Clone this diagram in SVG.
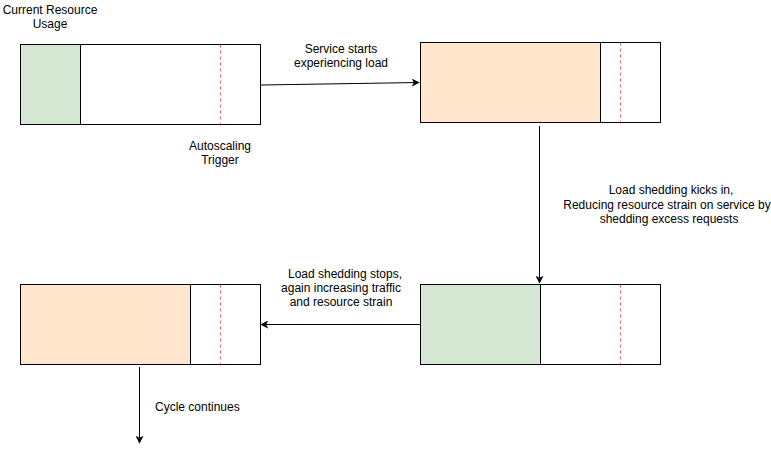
<svg xmlns="http://www.w3.org/2000/svg" width="771" height="453" viewBox="0 0 771 453">
<style>
text{font-family:"Liberation Sans",Arial,sans-serif;font-size:12px;fill:#000}
.box{fill:none;stroke:#000;stroke-width:1}
.bg{fill:#fff}
.g{fill:#d5e8d4}
.o{fill:#ffe6cc}
.div{stroke:#000;stroke-width:1}
.dash{stroke:#ea6b66;stroke-width:1;stroke-dasharray:3,3}
.edge{stroke:#000;stroke-width:1;fill:none}
</style>
<defs>
<marker id="arr" viewBox="0 0 10 10" refX="9" refY="5" markerWidth="8" markerHeight="8" markerUnits="userSpaceOnUse" orient="auto">
<path d="M0,0 L10,5 L0,10 L2.5,5 Z" fill="#000"/>
</marker>
</defs>
<rect width="771" height="453" fill="#fff"/>
<g id="node1">
<rect class="bg" x="20.5" y="44.5" width="240" height="80"/>
<rect class="g" x="20.5" y="44.5" width="60" height="80"/>
<line class="div" x1="80.5" y1="44.5" x2="80.5" y2="124.5"/>
<line class="dash" x1="220.5" y1="44.5" x2="220.5" y2="127"/>
<rect class="box" x="20.5" y="44.5" width="240" height="80"/>
</g>
<g id="node2">
<rect class="bg" x="420.5" y="42.5" width="240" height="80"/>
<rect class="o" x="420.5" y="42.5" width="180" height="80"/>
<line class="div" x1="600.5" y1="42.5" x2="600.5" y2="122.5"/>
<line class="dash" x1="620.5" y1="42.5" x2="620.5" y2="125"/>
<rect class="box" x="420.5" y="42.5" width="240" height="80"/>
</g>
<g id="node3">
<rect class="bg" x="420.5" y="284.5" width="240" height="80"/>
<rect class="g" x="420.5" y="284.5" width="120" height="80"/>
<line class="div" x1="540.5" y1="284.5" x2="540.5" y2="364.5"/>
<line class="dash" x1="620.5" y1="284.5" x2="620.5" y2="367"/>
<rect class="box" x="420.5" y="284.5" width="240" height="80"/>
</g>
<g id="node4">
<rect class="bg" x="20.5" y="284.5" width="240" height="80"/>
<rect class="o" x="20.5" y="284.5" width="170" height="80"/>
<line class="div" x1="190.5" y1="284.5" x2="190.5" y2="364.5"/>
<line class="dash" x1="220.5" y1="284.5" x2="220.5" y2="367"/>
<rect class="box" x="20.5" y="284.5" width="240" height="80"/>
</g>
<g id="labels">
<text x="50" y="14" text-anchor="middle">Current Resource</text>
<text x="50" y="28" text-anchor="middle">Usage</text>
<text x="220" y="150" text-anchor="middle">Autoscaling</text>
<text x="220" y="164" text-anchor="middle">Trigger</text>
</g>
<g id="connectors">
<line class="edge" x1="261" y1="85" x2="419" y2="82.5" marker-end="url(#arr)"/>
<line class="edge" x1="539.5" y1="126" x2="539.5" y2="283" marker-end="url(#arr)"/>
<line class="edge" x1="420" y1="324.5" x2="261" y2="324.5" marker-end="url(#arr)"/>
<line class="edge" x1="139.5" y1="367" x2="139.5" y2="443" marker-end="url(#arr)"/>
<text x="341" y="53" text-anchor="middle">Service starts</text>
<text x="341" y="67" text-anchor="middle">experiencing load</text>
<text x="671" y="194" text-anchor="middle">Load shedding kicks in,</text>
<text x="667" y="209" text-anchor="middle">Reducing resource strain on service by</text>
<text x="669" y="223" text-anchor="middle">shedding excess requests</text>
<text x="345" y="278" text-anchor="middle">Load shedding stops,</text>
<text x="341" y="292" text-anchor="middle">again increasing traffic</text>
<text x="341" y="306" text-anchor="middle">and resource strain</text>
<text x="155" y="411">Cycle continues</text>
</g>
</svg>
